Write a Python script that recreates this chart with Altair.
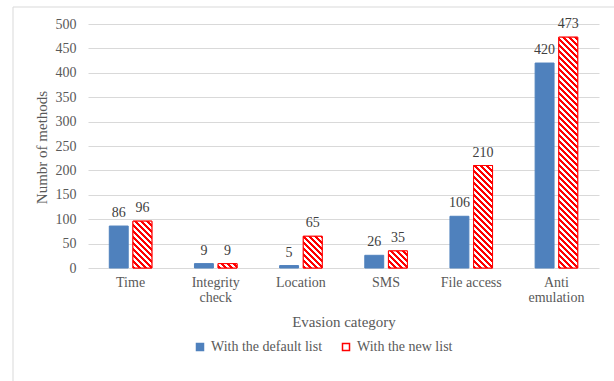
import altair as alt
import pandas as pd

# ---- data -------------------------------------------------------------
categories = ["Time", "Integrity check", "Location", "SMS", "File access", "Anti emulation"]
default_list = [86, 9, 5, 26, 106, 420]
new_list = [96, 9, 65, 35, 210, 473]
series_names = ["With the default list", "With the new list"]
y_ticks = [0, 50, 100, 150, 200, 250, 300, 350, 400, 450, 500]

# ---- style / layout ---------------------------------------------------
W, H = 511, 244
Y_MAX = 500
BLUE = "#4F81BD"
RED = "#FF0000"
GRID = "#D9D9D9"
TEXT = "#595959"
FONT = "Liberation Serif"
PAD_INNER, PAD_OUTER, PAD_SUB = 0.5, 0.25, 0.2
HATCH_PERIOD = 6.0  # horizontal distance between stripes, px

rows = []
for cat, a, b in zip(categories, default_list, new_list):
    rows.append({"category": cat, "series": series_names[0], "value": a})
    rows.append({"category": cat, "series": series_names[1], "value": b})
df = pd.DataFrame(rows)

# width of one bar in px, from the band scale settings
step = W / (len(categories) - PAD_INNER + 2 * PAD_OUTER)
band = step * (1 - PAD_INNER)
sub_step = band / (2 - PAD_SUB)
bar_w = sub_step * (1 - PAD_SUB)


def hatch_fill(value):
    """Diagonal red/white stripes as a hard-stop linear gradient.

    The gradient lives in the bar's bounding-box space, so its vector is
    skewed by the bar's aspect ratio to keep stripes at 45 degrees.
    """
    w = bar_w
    h = max(value * H / Y_MAX, 0.5)
    s = (w + h) / (w * w + h * h)
    p = HATCH_PERIOD / (w + h)
    stops = []
    t = 0.0
    while t < 1.0:
        t1 = min(t + p / 2, 1.0)
        t2 = min(t + p, 1.0)
        stops += [(t, RED), (t1, RED), (t1, "#FFFFFF"), (t2, "#FFFFFF")]
        t += p
    return alt.LinearGradient(
        gradient="linear",
        stops=[alt.GradientStop(color=c, offset=round(o, 5)) for o, c in stops],
        x1=0, y1=1, x2=round(w * s, 6), y2=round(1 - h * s, 6),
    )


multi_line = {"Integrity check": ["Integrity", "check"], "Anti emulation": ["Anti", "emulation"]}
label_expr = ""
for k, v in multi_line.items():
    label_expr += f"datum.label == '{k}' ? {v!r} : "
label_expr += "datum.label"

x_enc = alt.X(
    "category:N",
    sort=categories,
    scale=alt.Scale(paddingInner=PAD_INNER, paddingOuter=PAD_OUTER),
    axis=alt.Axis(
        title="Evasion category",
        labelAngle=0,
        labelExpr=label_expr,
        labelBaseline="top",
        labelPadding=7,
        labelLineHeight=15,
        labelFont=FONT,
        labelFontSize=14,
        labelColor=TEXT,
        labelOverlap=False,
        ticks=False,
        tickSize=0,
        domain=False,
        grid=False,
        titleFont=FONT,
        titleFontSize=15,
        titleFontWeight="normal",
        titleColor=TEXT,
        titleY=58,
        titleBaseline="alphabetic",
    ),
)
xoff_enc = alt.XOffset(
    "series:N", sort=series_names,
    scale=alt.Scale(domain=series_names, paddingInner=PAD_SUB, paddingOuter=0),
)
y_enc = alt.Y(
    "value:Q",
    scale=alt.Scale(domain=[0, Y_MAX], nice=False),
    axis=alt.Axis(
        title="Numbr of methods",
        values=y_ticks,
        labelFont=FONT,
        labelFontSize=14,
        labelColor=TEXT,
        labelPadding=12,
        labelOverlap=False,
        labelFlush=False,
        ticks=False,
        tickSize=0,
        domain=False,
        gridColor=GRID,
        gridWidth=1,
        titleFont=FONT,
        titleFontSize=15,
        titleFontWeight="normal",
        titleColor=TEXT,
        titleX=-41.5,
        titleY=123,
        titleBaseline="alphabetic",
    ),
)

base = alt.Chart(df)

bars = base.mark_bar(strokeWidth=1).encode(
    x=x_enc,
    xOffset=xoff_enc,
    y=y_enc,
    fill=alt.Fill(
        "series:N", sort=series_names,
        scale=alt.Scale(domain=series_names, range=[BLUE, "#FFFFFF"]),
        legend=alt.Legend(
            title=None,
            orient="none",
            legendX=105,
            legendY=316,
            direction="horizontal",
            symbolType="square",
            symbolSize=49,
            symbolStrokeWidth=1.5,
            labelFont=FONT,
            labelFontSize=14,
            labelColor=TEXT,
            labelOffset=4,
            columnPadding=16,
            padding=0,
        ),
    ),
    stroke=alt.Stroke(
        "series:N", sort=series_names,
        scale=alt.Scale(domain=series_names, range=[BLUE, RED]),
    ),
)

hatch_layers = []
for cat, v in zip(categories, new_list):
    hatch_layers.append(
        base.transform_filter(
            (alt.datum.category == cat) & (alt.datum.series == series_names[1])
        ).mark_bar(fill=hatch_fill(v), stroke=RED, strokeWidth=1).encode(
            x=x_enc,
            xOffset=xoff_enc,
            y=y_enc,
        )
    )

labels = base.mark_text(
    baseline="alphabetic", dy=-9, font=FONT, fontSize=14, color="#404040"
).encode(
    x=x_enc,
    xOffset=xoff_enc,
    y=y_enc,
    text=alt.Text("value:Q"),
)

frame = alt.Chart(alt.Data(values=[{}])).mark_rect(
    fill=None, stroke=GRID, strokeWidth=1
).encode(
    x=alt.value(-75), x2=alt.value(W + 40), y=alt.value(-17), y2=alt.value(H + 130)
)

chart = alt.layer(frame, bars, *hatch_layers, labels).properties(
    width=W,
    height=H,
    autosize=alt.AutoSizeParams(type="none"),
    padding={"left": 88, "top": 24, "right": 15, "bottom": 113},
    background="#FFFFFF",
).configure(
    font=FONT
).configure_view(
    stroke=None
).configure_legend(
    labelFont=FONT
)

chart.save("out.html", embed_options={"renderer": "svg", "actions": False})
